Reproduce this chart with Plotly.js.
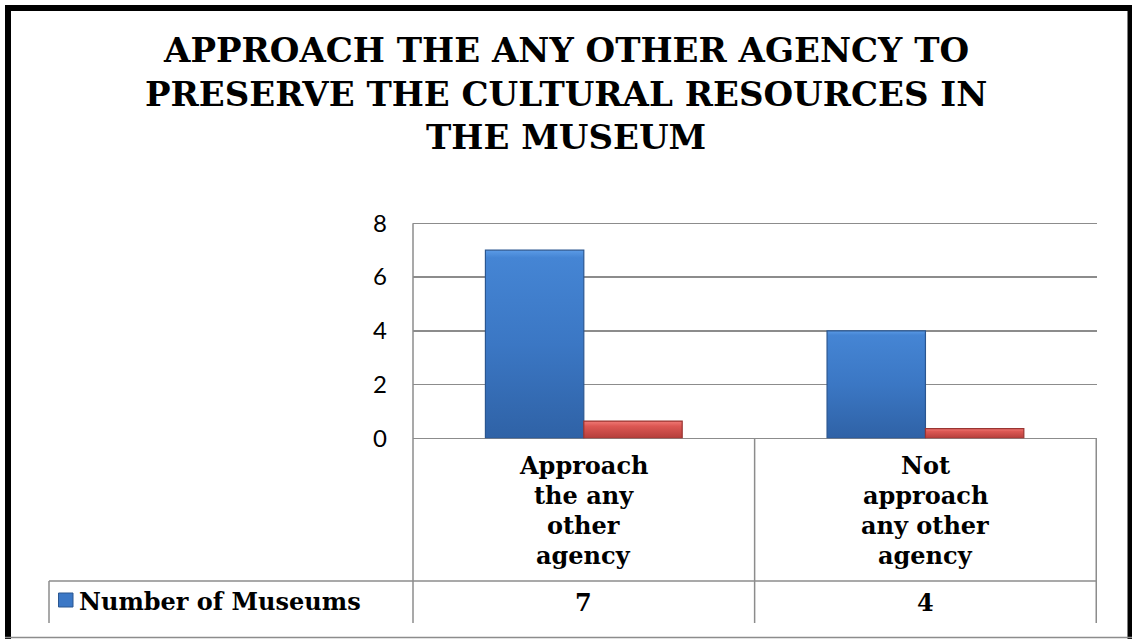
<!DOCTYPE html>
<html>
<head>
<meta charset="utf-8">
<script src="https://cdn.plot.ly/plotly-3.0.1.min.js"></script>
<style>
html,body{margin:0;padding:0;background:#fff;}
#chart{width:1132px;height:639px;}
</style>
</head>
<body>
<div id="chart"></div>
<script>
// ---- data ----
const categories = ["Approach the any other agency", "Not approach any other agency"];
const categoryLines = [["Approach", "the any", "other", "agency"], ["Not", "approach", "any other", "agency"]];
const seriesName = "Number of Museums";
const museums = [7, 4];
const share = [0.64, 0.36];
const yTicks = [0, 2, 4, 6, 8];
const titleLines = ["APPROACH THE ANY OTHER AGENCY TO", "PRESERVE THE CULTURAL RESOURCES IN", "THE MUSEUM"];

// ---- geometry helpers (pixels -> paper) ----
const W = 1132, H = 639;
const px = x => x / W;
const py = y => 1 - y / H;

const serif = "DejaVu Serif";
const yMax = 8.1;
const y0px = 438.3, unitPx = 26.875;

const traces = [
  {
    type: "bar", x: categories, y: museums, name: seriesName,
    marker: {color: "#3c78c6", line: {color: "#2a5690", width: 1.2}},
    showlegend: false, hoverinfo: "skip"
  },
  {
    type: "bar", x: categories, y: share, name: "Share",
    marker: {color: "#d04d4a", line: {color: "#9a3431", width: 1.2}},
    showlegend: false, hoverinfo: "skip"
  }
];

const annotations = [];
titleLines.forEach((t, i) => {
  annotations.push({
    text: "<b>" + t + "</b>", xref: "paper", yref: "paper",
    x: px(566), y: py(50 + i * 43.5), xanchor: "center", yanchor: "middle",
    showarrow: false, font: {family: serif, size: 34, color: "#000"}
  });
});
categories.forEach((c, i) => {
  categoryLines[i].forEach((ln, j) => {
    annotations.push({
      text: "<b>" + ln + "</b>", xref: "x", yref: "paper",
      x: c, y: py(465 + j * 30), xanchor: "center", yanchor: "middle",
      showarrow: false, font: {family: serif, size: 24, color: "#000"}
    });
  });
  annotations.push({
    text: "<b>" + museums[i] + "</b>", xref: "x", yref: "paper",
    x: c, y: py(602), xanchor: "center", yanchor: "middle",
    showarrow: false, font: {family: serif, size: 24, color: "#000"}
  });
});
annotations.push({
  text: "<b>" + seriesName + "</b>", xref: "paper", yref: "paper",
  x: px(77), y: py(601), xanchor: "left", yanchor: "middle",
  showarrow: false, font: {family: serif, size: 24, color: "#000"}
});

const gray = "#8c8c8c";
const shapes = [
  {type: "line", xref: "paper", yref: "paper", x0: px(413), x1: px(413), y0: py(438), y1: py(623), line: {color: gray, width: 1.5}},
  {type: "line", xref: "x", yref: "paper", x0: 0.5, x1: 0.5, y0: py(438), y1: py(623), line: {color: gray, width: 1.5}},
  {type: "line", xref: "x", yref: "paper", x0: 1.5, x1: 1.5, y0: py(438), y1: py(623), line: {color: gray, width: 1.5}},
  {type: "line", xref: "paper", yref: "paper", x0: px(49), x1: px(1097), y0: py(581), y1: py(581), line: {color: gray, width: 1.5}},
  {type: "line", xref: "paper", yref: "paper", x0: px(49), x1: px(49), y0: py(581), y1: py(623), line: {color: gray, width: 1.5}},
  {type: "rect", xref: "paper", yref: "paper", x0: px(58.5), x1: px(73), y0: py(593), y1: py(607), fillcolor: "#3c78c6", line: {color: "#2a5690", width: 1}},
  {type: "line", xref: "paper", yref: "paper", x0: px(8), x1: px(8), y0: py(5), y1: py(639), line: {color: "#000", width: 6}},
  {type: "line", xref: "paper", yref: "paper", x0: px(5), x1: px(1132), y0: py(8), y1: py(8), line: {color: "#000", width: 6}},
  {type: "line", xref: "paper", yref: "paper", x0: px(1130), x1: px(1130), y0: py(5), y1: py(639), line: {color: "#000", width: 5}},
  {type: "line", xref: "paper", yref: "paper", x0: px(5), x1: px(1132), y0: py(637.5), y1: py(637.5), line: {color: gray, width: 1.5}},
  {type: "line", xref: "paper", yref: "y", x0: px(413), x1: px(413), y0: 0, y1: yTicks[yTicks.length - 1], line: {color: gray, width: 1.5}}
];

const layout = {
  width: W, height: H,
  margin: {l: 0, r: 0, t: 0, b: 0},
  paper_bgcolor: "#fff", plot_bgcolor: "#fff",
  showlegend: false,
  barmode: "group", bargap: 0.424, bargroupgap: 0,
  xaxis: {
    domain: [px(413), px(1097)], type: "category",
    showticklabels: false, ticks: "", showgrid: false, zeroline: false,
    showline: false, fixedrange: true
  },
  yaxis: {
    domain: [py(y0px), py(y0px - yMax * unitPx)], range: [0, yMax],
    tickvals: yTicks, ticktext: yTicks.map(String),
    showgrid: true, gridcolor: gray, gridwidth: 1.5,
    zeroline: true, zerolinecolor: gray, zerolinewidth: 1.5,
    showline: false,
    ticks: "", ticklabelstandoff: 25,
    tickfont: {family: "Lato", size: 24, color: "#000"}, fixedrange: true
  },
  annotations: annotations,
  shapes: shapes
};

Plotly.newPlot("chart", traces, layout, {displayModeBar: false, staticPlot: true}).then(gd => {
  const svg = gd.querySelector(".main-svg");
  const NS = "http://www.w3.org/2000/svg";
  let defs = svg.querySelector("defs");
  const mk = (id, stops) => {
    const g = document.createElementNS(NS, "linearGradient");
    g.setAttribute("id", id);
    g.setAttribute("x1", "0"); g.setAttribute("y1", "0");
    g.setAttribute("x2", "0"); g.setAttribute("y2", "1");
    stops.forEach(([o, c]) => {
      const s = document.createElementNS(NS, "stop");
      s.setAttribute("offset", o); s.setAttribute("stop-color", c);
      g.appendChild(s);
    });
    defs.appendChild(g);
  };
  mk("gBlue", [["0", "#5b9be6"], ["0.04", "#4585d4"], ["0.5", "#3b77c4"], ["1", "#2f62a6"]]);
  mk("gRed", [["0", "#f07a76"], ["0.3", "#dc5753"], ["1", "#b43e3b"]]);
  gd.querySelectorAll(".barlayer .trace").forEach((tg, i) => {
    tg.querySelectorAll(".point path").forEach(p => {
      p.style.fill = i === 0 ? "url(#gBlue)" : "url(#gRed)";
    });
  });
});
</script>
</body>
</html>
